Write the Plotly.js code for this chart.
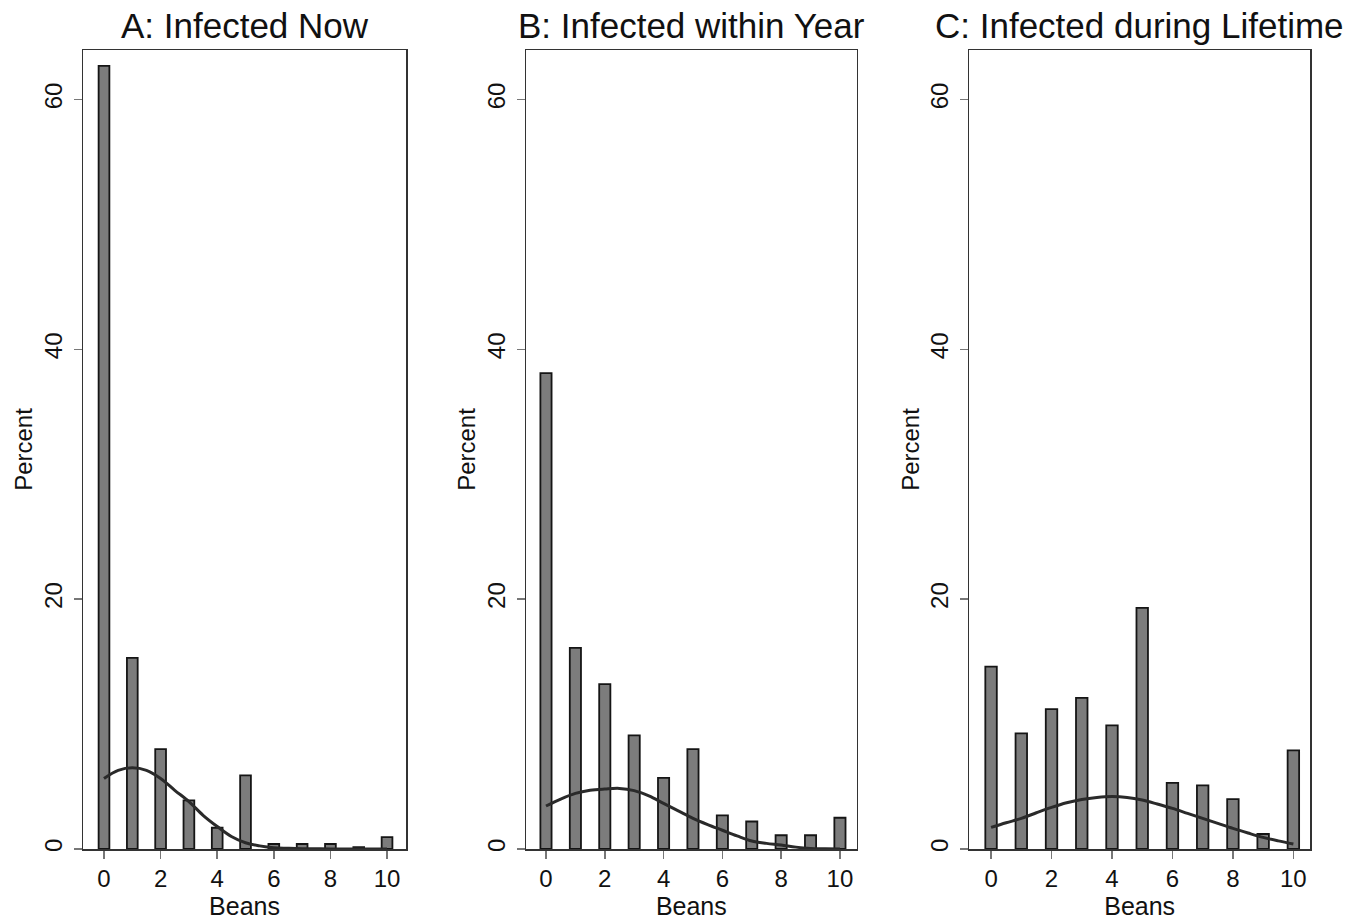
<!DOCTYPE html>
<html>
<head>
<meta charset="utf-8">
<script src="https://cdn.plot.ly/plotly-3.0.1.min.js"></script>
<style>html,body{margin:0;padding:0;background:#fff;}#chart{width:1368px;height:923px;}</style>
</head>
<body>
<div id="chart"></div>
<script>
// Categories (number of beans)
const beans = [0, 1, 2, 3, 4, 5, 6, 7, 8, 9, 10];

// Bar values (percent)
const pctNow      = [62.7, 15.3, 8.0, 3.9, 1.7, 5.9, 0.4, 0.4, 0.4, 0.15, 0.95];
const pctYear     = [38.1, 16.1, 13.2, 9.1, 5.7, 8.0, 2.7, 2.2, 1.1, 1.1, 2.5];
const pctLifetime = [14.6, 9.25, 11.2, 12.1, 9.9, 19.3, 5.3, 5.1, 4.0, 1.2, 7.9];

// Overlay curve
const curveNowX = [0, 0.5, 1, 1.5, 2, 2.5, 3, 3.5, 4, 4.5, 5, 5.5, 6, 6.5, 7, 8, 9, 10];
const curveNowY = [5.65, 6.3, 6.5, 6.3, 5.65, 4.7, 3.8, 2.7, 1.8, 1.0, 0.5, 0.25, 0.1, 0.06, 0.03, 0.01, 0, 0];

const curveYearX = [0, 0.5, 1, 1.5, 2, 2.5, 3, 3.5, 4, 4.5, 5, 5.5, 6, 6.5, 7, 7.5, 8, 8.5, 9, 9.5, 10];
const curveYearY = [3.44, 4.0, 4.45, 4.7, 4.8, 4.85, 4.67, 4.25, 3.65, 3.05, 2.45, 1.95, 1.5, 1.05, 0.64, 0.45, 0.32, 0.15, 0.05, 0.02, 0];

const curveLifeX = [0, 0.5, 1, 1.5, 2, 2.5, 3, 3.5, 4, 4.5, 5, 5.5, 6, 6.5, 7, 7.5, 8, 8.5, 9, 9.5, 10];
const curveLifeY = [1.73, 2.1, 2.45, 2.9, 3.33, 3.7, 3.97, 4.13, 4.2, 4.13, 3.92, 3.6, 3.25, 2.85, 2.45, 2.05, 1.65, 1.28, 0.93, 0.65, 0.4];

const panelTitles = ["A: Infected Now", "B: Infected within Year", "C: Infected during Lifetime"];
const xTicks = [0, 2, 4, 6, 8, 10];
const yTicks = [0, 20, 40, 60];

const barSets = [pctNow, pctYear, pctLifetime];
const curves = [[curveNowX, curveNowY], [curveYearX, curveYearY], [curveLifeX, curveLifeY]];

const W = 1368, H = 923;
const boxes = [[83, 406], [526, 856.7], [969.3, 1310]];
const xRanges = [[-0.742, 10.67], [-0.68, 10.57], [-0.72, 10.55]];
const yDom = [1 - 849 / H, 1 - 50 / H];

const fontFam = "Liberation Sans, Arial, Helvetica, sans-serif";
const traces = [];
const layout = {
  width: W, height: H,
  margin: {l: 0, r: 0, t: 0, b: 0},
  paper_bgcolor: "#fff", plot_bgcolor: "#fff",
  showlegend: false,
  font: {family: fontFam, color: "#111", size: 24},
  annotations: []
};

for (let i = 0; i < 3; i++) {
  const sfx = i === 0 ? "" : String(i + 1);
  const xa = "x" + sfx, ya = "y" + sfx;
  traces.push({
    type: "bar", x: beans, y: barSets[i], xaxis: xa, yaxis: ya,
    width: 0.38,
    marker: {color: "#7c7c7c", line: {color: "#151515", width: 1.8}},
    hoverinfo: "x+y"
  });
  traces.push({
    type: "scatter", mode: "lines", x: curves[i][0], y: curves[i][1], xaxis: xa, yaxis: ya,
    line: {color: "#2a2a2a", width: 3, shape: "spline", smoothing: 1},
    hoverinfo: "skip"
  });
  const dom = [boxes[i][0] / W, boxes[i][1] / W];
  layout["xaxis" + sfx] = {
    domain: dom, range: xRanges[i], anchor: ya,
    tickvals: xTicks, ticktext: xTicks.map(String),
    ticks: "outside", ticklen: 8, tickwidth: 1.5, tickcolor: "#777",
    showline: true, linecolor: "#333", linewidth: 1.5, mirror: true,
    showgrid: false, zeroline: false,
    tickfont: {size: 24, color: "#111"},
    title: {text: "Beans", font: {size: 25, color: "#111"}, standoff: 2}
  };
  layout["yaxis" + sfx] = {
    domain: yDom, range: [0, 63.97], anchor: xa,
    tickvals: yTicks, ticktext: yTicks.map(String),
    tickangle: -90,
    ticks: "outside", ticklen: 8, tickwidth: 1.5, tickcolor: "#777",
    ticklabelstandoff: 2,
    showline: true, linecolor: "#333", linewidth: 1.5, mirror: true,
    showgrid: false, zeroline: false,
    tickfont: {size: 24, color: "#111"},
    title: {text: "Percent", font: {size: 24, color: "#111"}, standoff: 0}
  };
  layout.annotations.push({
    text: panelTitles[i], xref: "paper", yref: "paper",
    x: (dom[0] + dom[1]) / 2, y: 1 - 26 / H, xanchor: "center", yanchor: "middle",
    showarrow: false, font: {size: 35, color: "#111", family: fontFam}
  });
}

Plotly.newPlot("chart", traces, layout, {displayModeBar: false, staticPlot: true});
</script>
</body>
</html>
